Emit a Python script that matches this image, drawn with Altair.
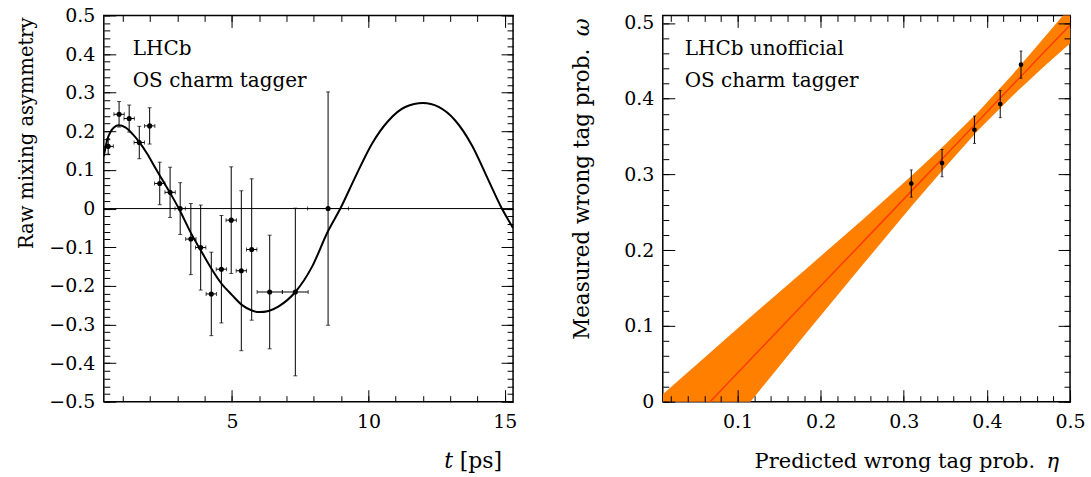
import altair as alt
import pandas as pd

FONT = "DejaVu Serif"

# ---------------- Left panel: raw mixing asymmetry ----------------
t_pts = [0.46, 0.86, 1.23, 1.60, 1.98, 2.35, 2.73, 3.10, 3.49, 3.85, 4.24, 4.61,
         4.97, 5.34, 5.72, 6.38, 7.32, 8.52]
asym = [0.161, 0.244, 0.233, 0.171, 0.214, 0.065, 0.042, 0.000, -0.079, -0.101,
        -0.221, -0.157, -0.030, -0.161, -0.106, -0.216, -0.216, 0.000]
asym_err = [0.020, 0.033, 0.035, 0.042, 0.047, 0.055, 0.065, 0.067, 0.092, 0.110,
            0.108, 0.139, 0.138, 0.207, 0.183, 0.147, 0.217, 0.302]
t_err = [0.19, 0.19, 0.19, 0.19, 0.19, 0.19, 0.19, 0.19, 0.19, 0.19, 0.19, 0.19,
         0.19, 0.19, 0.19, 0.46, 0.47, 0.75]

curve_t = [0.30, 0.42, 0.54, 0.67, 0.85, 1.09, 1.34, 1.60, 1.89, 2.19, 2.44, 2.75,
           3.05, 3.49, 3.85, 4.24, 4.61, 5.00, 5.37, 5.73, 6.00, 6.34, 6.71, 7.32,
           7.93, 8.52, 8.97, 9.52, 10.13, 10.74, 11.35, 12.00, 12.57, 13.18, 13.79,
           14.40, 14.89, 15.30]
curve_a = [0.135, 0.177, 0.198, 0.210, 0.2155, 0.210, 0.194, 0.172, 0.142, 0.105,
           0.075, 0.038, 0.000, -0.063, -0.108, -0.155, -0.194, -0.224, -0.250,
           -0.264, -0.268, -0.265, -0.253, -0.216, -0.151, -0.058, 0.000, 0.082,
           0.168, 0.228, 0.263, 0.273, 0.263, 0.228, 0.164, 0.073, 0.000, -0.050]

zero_level = [0.0]

left_x_major = [5, 10, 15]
left_x_minor = list(range(1, 16))
left_y_labels = [-0.5, -0.4, -0.3, -0.2, -0.1, 0.0, 0.1, 0.2, 0.3, 0.4, 0.5]
left_y_minor = [round(-0.5 + 0.02 * i, 2) for i in range(51)]

# ---------------- Right panel: calibration ----------------
eta_pts = [0.309, 0.346, 0.385, 0.416, 0.441]
omega_pts = [0.288, 0.315, 0.359, 0.393, 0.445]
omega_err = [0.018, 0.018, 0.018, 0.018, 0.018]

band_eta = [0.01, 0.06, 0.12, 0.18, 0.25, 0.31, 0.35, 0.39, 0.43, 0.47, 0.50]
band_center = [-0.065, -0.008, 0.061, 0.130, 0.210, 0.279, 0.325, 0.371, 0.417,
               0.463, 0.497]
band_lo = [-0.140, -0.074, 0.006, 0.087, 0.180, 0.259, 0.310, 0.359, 0.403,
           0.444, 0.473]
band_hi = [0.010, 0.058, 0.116, 0.173, 0.240, 0.299, 0.340, 0.383, 0.431,
           0.482, 0.521]

right_x_labels = [0.1, 0.2, 0.3, 0.4, 0.5]
right_x_minor = [round(0.02 * i, 2) for i in range(1, 26)]
right_y_labels = [0.0, 0.1, 0.2, 0.3, 0.4, 0.5]
right_y_minor = [round(0.02 * i, 2) for i in range(0, 26)]

# ---------------- tables ----------------
pts_l = pd.DataFrame({"t": t_pts, "a": asym, "ae": asym_err, "te": t_err})
pts_l["alo"] = pts_l["a"] - pts_l["ae"]
pts_l["ahi"] = pts_l["a"] + pts_l["ae"]
pts_l["tlo"] = pts_l["t"] - pts_l["te"]
pts_l["thi"] = pts_l["t"] + pts_l["te"]
curve_df = pd.DataFrame({"t": curve_t, "a": curve_a})
zero_df = pd.DataFrame({"a": zero_level})

pts_r = pd.DataFrame({"eta": eta_pts, "w": omega_pts, "we": omega_err})
pts_r["wlo"] = pts_r["w"] - pts_r["we"]
pts_r["whi"] = pts_r["w"] + pts_r["we"]
band_df = pd.DataFrame({"eta": band_eta, "c": band_center, "lo": band_lo, "hi": band_hi})

W1, W2, H = 410, 408, 387

xs1 = alt.Scale(domain=[0.3, 15.3], nice=False, zero=False)
ys1 = alt.Scale(domain=[-0.5, 0.5], nice=False, zero=False)
xs2 = alt.Scale(domain=[0.01, 0.5], nice=False, zero=False)
ys2 = alt.Scale(domain=[0.0, 0.51], nice=False, zero=False)


def tick_axes(df, xf, yf, xs, ys, xvals, yvals, size, xo, yo):
    common = dict(labels=False, domain=False, grid=False, ticks=True, tickSize=size,
                  offset=-size, tickColor="black", tickWidth=1, title=None, zindex=2)
    return alt.Chart(df).mark_point(opacity=0).encode(
        x=alt.X(xf, type="quantitative", scale=xs,
                axis=alt.Axis(orient=xo, values=xvals, **common)),
        y=alt.Y(yf, type="quantitative", scale=ys,
                axis=alt.Axis(orient=yo, values=yvals, **common)),
    )


def label_axes(df, xf, yf, xs, ys, xvals, yvals, xfmt, yfmt):
    return alt.Chart(df).mark_point(opacity=0).encode(
        x=alt.X(xf, type="quantitative", scale=xs,
                axis=alt.Axis(orient="bottom", values=xvals, format=xfmt, ticks=False,
                              domain=False, grid=False, labelPadding=11,
                              labelFlush=False, labelOverlap=False, title=None)),
        y=alt.Y(yf, type="quantitative", scale=ys,
                axis=alt.Axis(orient="left", values=yvals, format=yfmt, ticks=False,
                              domain=False, grid=False, labelPadding=9,
                              labelFlush=False, labelOverlap=False, title=None)),
    )


def txt(s, x, y, size=20, align="left", angle=0, italic=False):
    kw = dict(align=align, baseline="alphabetic", font=FONT, fontSize=size,
              color="black")
    if angle:
        kw["angle"] = angle
    if italic:
        kw["fontStyle"] = "italic"
    return alt.Chart(pd.DataFrame({"s": [s]})).mark_text(**kw).encode(
        text="s:N", x=alt.value(x), y=alt.value(y))


# ---------------- left panel ----------------
L_zero = alt.Chart(zero_df).mark_rule(color="black", strokeWidth=1).encode(
    y=alt.Y("a:Q", scale=ys1, axis=None))
L_curve = alt.Chart(curve_df).mark_line(color="black", strokeWidth=2,
                                        interpolate="monotone", clip=True).encode(
    x=alt.X("t:Q", scale=xs1, axis=None), y=alt.Y("a:Q", scale=ys1, axis=None))
L_verr = alt.Chart(pts_l).mark_rule(color="black", strokeWidth=1).encode(
    x=alt.X("t:Q", scale=xs1, axis=None), y=alt.Y("alo:Q", scale=ys1, axis=None),
    y2="ahi:Q")
L_herr = alt.Chart(pts_l).mark_rule(color="black", strokeWidth=1, clip=True).encode(
    x=alt.X("tlo:Q", scale=xs1, axis=None), x2="thi:Q",
    y=alt.Y("a:Q", scale=ys1, axis=None))
L_vcap_lo = alt.Chart(pts_l).mark_tick(orient="horizontal", size=4, thickness=1,
                                       color="black").encode(
    x=alt.X("t:Q", scale=xs1, axis=None), y=alt.Y("alo:Q", scale=ys1, axis=None))
L_vcap_hi = alt.Chart(pts_l).mark_tick(orient="horizontal", size=4, thickness=1,
                                       color="black").encode(
    x=alt.X("t:Q", scale=xs1, axis=None), y=alt.Y("ahi:Q", scale=ys1, axis=None))
L_hcap_lo = alt.Chart(pts_l).mark_tick(orient="vertical", size=4, thickness=1,
                                       color="black", clip=True).encode(
    x=alt.X("tlo:Q", scale=xs1, axis=None), y=alt.Y("a:Q", scale=ys1, axis=None))
L_hcap_hi = alt.Chart(pts_l).mark_tick(orient="vertical", size=4, thickness=1,
                                       color="black").encode(
    x=alt.X("thi:Q", scale=xs1, axis=None), y=alt.Y("a:Q", scale=ys1, axis=None))
L_pts = alt.Chart(pts_l).mark_circle(size=26, color="black", opacity=1).encode(
    x=alt.X("t:Q", scale=xs1, axis=None), y=alt.Y("a:Q", scale=ys1, axis=None))

left = alt.layer(
    L_zero, L_curve, L_verr, L_herr, L_vcap_lo, L_vcap_hi, L_hcap_lo, L_hcap_hi, L_pts,
    txt("LHCb", 29, 40), txt("OS charm tagger", 29, 72),
    txt("Raw mixing asymmetry", -71, 2, size=19.5, align="right", angle=270),
    txt("t", 341, 453, size=22, italic=True),
    txt("[ps]", 399, 453, size=22, align="right"),
    label_axes(pts_l, "t", "a", xs1, ys1, left_x_major, left_y_labels, "d", ".1~f"),
    tick_axes(pts_l, "t", "a", xs1, ys1, left_x_major, left_y_labels, 12, "bottom", "left"),
    tick_axes(pts_l, "t", "a", xs1, ys1, left_x_minor, left_y_minor, 6, "bottom", "left"),
    tick_axes(pts_l, "t", "a", xs1, ys1, left_x_major, left_y_labels, 12, "top", "right"),
    tick_axes(pts_l, "t", "a", xs1, ys1, left_x_minor, left_y_minor, 6, "top", "right"),
).resolve_axis(x="independent", y="independent").properties(width=W1, height=H)

# ---------------- right panel ----------------
R_band = alt.Chart(band_df).mark_area(color="#ff7f00", opacity=1, clip=True).encode(
    x=alt.X("eta:Q", scale=xs2, axis=None), y=alt.Y("lo:Q", scale=ys2, axis=None),
    y2="hi:Q")
R_line = alt.Chart(band_df).mark_line(color="#ff3c00", strokeWidth=1.5, clip=True).encode(
    x=alt.X("eta:Q", scale=xs2, axis=None), y=alt.Y("c:Q", scale=ys2, axis=None))
R_err = alt.Chart(pts_r).mark_rule(color="black", strokeWidth=1).encode(
    x=alt.X("eta:Q", scale=xs2, axis=None), y=alt.Y("wlo:Q", scale=ys2, axis=None),
    y2="whi:Q")
R_cap_lo = alt.Chart(pts_r).mark_tick(orient="horizontal", size=3, thickness=1,
                                      color="black").encode(
    x=alt.X("eta:Q", scale=xs2, axis=None), y=alt.Y("wlo:Q", scale=ys2, axis=None))
R_cap_hi = alt.Chart(pts_r).mark_tick(orient="horizontal", size=3, thickness=1,
                                      color="black").encode(
    x=alt.X("eta:Q", scale=xs2, axis=None), y=alt.Y("whi:Q", scale=ys2, axis=None))
R_pts = alt.Chart(pts_r).mark_circle(size=22, color="black", opacity=1).encode(
    x=alt.X("eta:Q", scale=xs2, axis=None), y=alt.Y("w:Q", scale=ys2, axis=None))

right = alt.layer(
    R_band, R_line, R_err, R_cap_lo, R_cap_hi, R_pts,
    txt("LHCb unofficial", 22, 40), txt("OS charm tagger", 22, 72),
    txt("Measured wrong tag prob.", -74, 325, size=21.5, align="left", angle=270),
    txt("ω", -74, 3, size=22, align="right", angle=270, italic=True),
    txt("Predicted wrong tag prob.", 92, 453, size=21, align="left"),
    txt("η", 397, 453, size=21, align="right", italic=True),
    label_axes(pts_r, "eta", "w", xs2, ys2, right_x_labels, right_y_labels, ".1~f", ".1~f"),
    tick_axes(pts_r, "eta", "w", xs2, ys2, right_x_labels, right_y_labels, 12, "bottom", "left"),
    tick_axes(pts_r, "eta", "w", xs2, ys2, right_x_minor, right_y_minor, 6, "bottom", "left"),
    tick_axes(pts_r, "eta", "w", xs2, ys2, right_x_labels, right_y_labels, 12, "top", "right"),
    tick_axes(pts_r, "eta", "w", xs2, ys2, right_x_minor, right_y_minor, 6, "top", "right"),
).resolve_axis(x="independent", y="independent").properties(width=W2, height=H)

chart = alt.hconcat(left, right, spacing=150, bounds="flush").properties(
    padding={"left": 16, "top": 5, "right": 5, "bottom": 5},
    background="white",
).configure_view(stroke="black", strokeWidth=1.5).configure_axis(
    labelFont=FONT, labelFontSize=19, labelColor="black",
    titleFont=FONT, titleFontSize=20, titleFontWeight="normal", titleColor="black",
)

chart.save("out.html", embed_options={"renderer": "svg", "actions": False})
